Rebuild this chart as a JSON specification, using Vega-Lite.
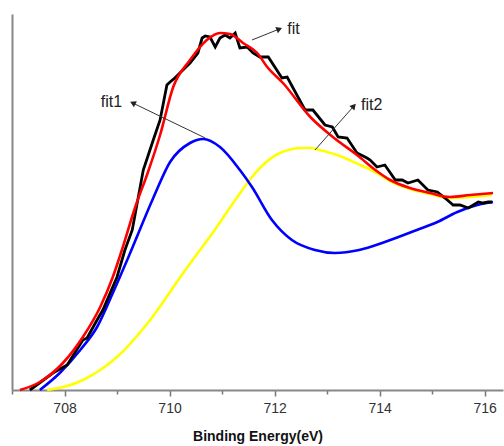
{
  "$schema": "https://vega.github.io/schema/vega-lite/v6.json",
  "width": 491,
  "height": 376,
  "autosize": {"type": "none"},
  "padding": {"left": 12, "top": 14, "right": 1, "bottom": 56},
  "background": "white",
  "config": {"view": {"stroke": null}},
  "datasets": {
    "curves": [
      {"s": "fit2", "e": 707.67, "v": 0}, {"s": "fit2", "e": 708.05, "v": 4}, {"s": "fit2", "e": 708.35, "v": 10},
      {"s": "fit2", "e": 708.68, "v": 20}, {"s": "fit2", "e": 709.0, "v": 33}, {"s": "fit2", "e": 709.63, "v": 70},
      {"s": "fit2", "e": 710.26, "v": 117}, {"s": "fit2", "e": 710.90, "v": 163}, {"s": "fit2", "e": 711.25, "v": 190},
      {"s": "fit2", "e": 711.57, "v": 213}, {"s": "fit2", "e": 711.72, "v": 222}, {"s": "fit2", "e": 712.10, "v": 237},
      {"s": "fit2", "e": 712.52, "v": 242}, {"s": "fit2", "e": 712.68, "v": 242}, {"s": "fit2", "e": 712.85, "v": 240},
      {"s": "fit2", "e": 713.19, "v": 235}, {"s": "fit2", "e": 713.63, "v": 225}, {"s": "fit2", "e": 713.95, "v": 217},
      {"s": "fit2", "e": 714.20, "v": 209}, {"s": "fit2", "e": 714.58, "v": 201}, {"s": "fit2", "e": 714.96, "v": 196},
      {"s": "fit2", "e": 715.34, "v": 192}, {"s": "fit2", "e": 715.72, "v": 193}, {"s": "fit2", "e": 716.14, "v": 195},

      {"s": "fit1", "e": 707.53, "v": 0}, {"s": "fit1", "e": 707.91, "v": 17}, {"s": "fit1", "e": 708.30, "v": 40},
      {"s": "fit1", "e": 708.62, "v": 63}, {"s": "fit1", "e": 708.92, "v": 97}, {"s": "fit1", "e": 709.21, "v": 132},
      {"s": "fit1", "e": 709.69, "v": 192}, {"s": "fit1", "e": 710.01, "v": 228}, {"s": "fit1", "e": 710.39, "v": 247},
      {"s": "fit1", "e": 710.64, "v": 251}, {"s": "fit1", "e": 710.96, "v": 243}, {"s": "fit1", "e": 711.34, "v": 220},
      {"s": "fit1", "e": 711.57, "v": 203}, {"s": "fit1", "e": 711.95, "v": 170}, {"s": "fit1", "e": 712.33, "v": 150},
      {"s": "fit1", "e": 712.77, "v": 140}, {"s": "fit1", "e": 713.15, "v": 137}, {"s": "fit1", "e": 713.61, "v": 140},
      {"s": "fit1", "e": 714.10, "v": 148}, {"s": "fit1", "e": 714.71, "v": 160}, {"s": "fit1", "e": 715.10, "v": 168},
      {"s": "fit1", "e": 715.48, "v": 178}, {"s": "fit1", "e": 715.86, "v": 185}, {"s": "fit1", "e": 716.16, "v": 188},

      {"s": "data", "e": 707.34, "v": 0}, {"s": "data", "e": 707.78, "v": 17}, {"s": "data", "e": 708.05, "v": 25},
      {"s": "data", "e": 708.35, "v": 50}, {"s": "data", "e": 708.43, "v": 52}, {"s": "data", "e": 708.62, "v": 70},
      {"s": "data", "e": 708.73, "v": 80}, {"s": "data", "e": 709.00, "v": 113}, {"s": "data", "e": 709.15, "v": 140},
      {"s": "data", "e": 709.29, "v": 160}, {"s": "data", "e": 709.50, "v": 220}, {"s": "data", "e": 709.69, "v": 250},
      {"s": "data", "e": 709.82, "v": 270}, {"s": "data", "e": 709.95, "v": 305}, {"s": "data", "e": 710.01, "v": 308},
      {"s": "data", "e": 710.10, "v": 312}, {"s": "data", "e": 710.39, "v": 327}, {"s": "data", "e": 710.54, "v": 337},
      {"s": "data", "e": 710.62, "v": 352}, {"s": "data", "e": 710.68, "v": 354}, {"s": "data", "e": 710.77, "v": 353},
      {"s": "data", "e": 710.87, "v": 343}, {"s": "data", "e": 710.96, "v": 352}, {"s": "data", "e": 711.06, "v": 355},
      {"s": "data", "e": 711.15, "v": 352}, {"s": "data", "e": 711.25, "v": 357}, {"s": "data", "e": 711.34, "v": 342},
      {"s": "data", "e": 711.48, "v": 343}, {"s": "data", "e": 711.59, "v": 337}, {"s": "data", "e": 711.72, "v": 333},
      {"s": "data", "e": 711.88, "v": 333}, {"s": "data", "e": 712.14, "v": 312}, {"s": "data", "e": 712.24, "v": 313},
      {"s": "data", "e": 712.58, "v": 280}, {"s": "data", "e": 712.73, "v": 280}, {"s": "data", "e": 712.96, "v": 265},
      {"s": "data", "e": 713.10, "v": 263}, {"s": "data", "e": 713.21, "v": 253}, {"s": "data", "e": 713.38, "v": 252},
      {"s": "data", "e": 713.57, "v": 237}, {"s": "data", "e": 713.76, "v": 232}, {"s": "data", "e": 713.82, "v": 230},
      {"s": "data", "e": 713.95, "v": 223}, {"s": "data", "e": 714.10, "v": 225}, {"s": "data", "e": 714.30, "v": 210},
      {"s": "data", "e": 714.43, "v": 210}, {"s": "data", "e": 714.54, "v": 207}, {"s": "data", "e": 714.73, "v": 210},
      {"s": "data", "e": 714.92, "v": 200}, {"s": "data", "e": 715.10, "v": 198}, {"s": "data", "e": 715.29, "v": 190},
      {"s": "data", "e": 715.40, "v": 185}, {"s": "data", "e": 715.53, "v": 185}, {"s": "data", "e": 715.69, "v": 182},
      {"s": "data", "e": 715.88, "v": 188}, {"s": "data", "e": 715.97, "v": 187}, {"s": "data", "e": 716.07, "v": 188},
      {"s": "data", "e": 716.14, "v": 188},

      {"s": "fit", "e": 707.15, "v": 0}, {"s": "fit", "e": 707.53, "v": 8}, {"s": "fit", "e": 707.97, "v": 27},
      {"s": "fit", "e": 708.35, "v": 53}, {"s": "fit", "e": 708.68, "v": 83}, {"s": "fit", "e": 708.92, "v": 113},
      {"s": "fit", "e": 709.08, "v": 138}, {"s": "fit", "e": 709.36, "v": 185}, {"s": "fit", "e": 709.57, "v": 215},
      {"s": "fit", "e": 709.82, "v": 255}, {"s": "fit", "e": 710.07, "v": 303}, {"s": "fit", "e": 710.39, "v": 330},
      {"s": "fit", "e": 710.71, "v": 350}, {"s": "fit", "e": 710.96, "v": 357}, {"s": "fit", "e": 711.15, "v": 356},
      {"s": "fit", "e": 711.40, "v": 347}, {"s": "fit", "e": 711.67, "v": 337}, {"s": "fit", "e": 711.86, "v": 323},
      {"s": "fit", "e": 712.16, "v": 307}, {"s": "fit", "e": 712.68, "v": 273}, {"s": "fit", "e": 713.11, "v": 253},
      {"s": "fit", "e": 713.57, "v": 235}, {"s": "fit", "e": 713.97, "v": 218}, {"s": "fit", "e": 714.20, "v": 210},
      {"s": "fit", "e": 714.58, "v": 202}, {"s": "fit", "e": 714.96, "v": 197}, {"s": "fit", "e": 715.34, "v": 193},
      {"s": "fit", "e": 715.72, "v": 195}, {"s": "fit", "e": 716.16, "v": 197}
    ],
    "notes": [
      {"label": "fit", "e0": 711.57, "v0": 350, "e1": 712.09, "v1": 361, "ang": 68, "te": 712.36, "tv": 361},
      {"label": "fit1", "e0": 710.68, "v0": 252, "e1": 709.30, "v1": 287, "ang": 296, "te": 708.895, "tv": 288},
      {"label": "fit2", "e0": 712.77, "v0": 240, "e1": 713.51, "v1": 284, "ang": 42, "te": 713.85, "tv": 285}
    ]
  },
  "layer": [
    {
      "data": {"name": "curves"},
      "transform": [{"filter": "datum.s === 'fit2' || datum.s === 'fit1'"}],
      "mark": {"type": "line", "interpolate": "monotone", "strokeWidth": 2.6},
      "encoding": {
        "x": {
          "field": "e", "type": "quantitative",
          "scale": {"domain": [707, 716.35], "nice": false, "zero": false},
          "axis": {
            "title": "Binding Energy(eV)",
            "titleFont": "Liberation Sans", "titleFontSize": 14, "titleFontWeight": "bold", "titleColor": "#111",
            "titlePadding": 14,
            "values": [707, 708, 709, 710, 711, 712, 713, 714, 715, 716],
            "labelExpr": "datum.value % 2 === 0 ? datum.label : ''",
            "labelFont": "Liberation Sans", "labelFontSize": 14, "labelColor": "#333", "labelPadding": 5,
            "tickSize": {"condition": {"test": "datum.value % 2 === 1", "value": 4}, "value": 6},
            "tickColor": "#777", "tickWidth": 1.5,
            "domainColor": "#888", "domainWidth": 2,
            "grid": false
          }
        },
        "y": {
          "field": "v", "type": "quantitative",
          "scale": {"domain": [0, 376], "nice": false},
          "axis": {"title": null, "labels": false, "ticks": false, "grid": false, "domainColor": "#888", "domainWidth": 2}
        },
        "color": {
          "field": "s", "type": "nominal",
          "scale": {"domain": ["fit2", "fit1", "data", "fit"], "range": ["#ffff00", "#0000ff", "#000000", "#ff0000"]},
          "legend": null
        },
        "detail": {"field": "s"}
      }
    },
    {
      "data": {"name": "curves"},
      "transform": [{"filter": "datum.s === 'data'"}],
      "mark": {"type": "line", "interpolate": "linear", "strokeWidth": 2.8, "color": "#000000"},
      "encoding": {
        "x": {"field": "e", "type": "quantitative"},
        "y": {"field": "v", "type": "quantitative"}
      }
    },
    {
      "data": {"name": "curves"},
      "transform": [{"filter": "datum.s === 'fit'"}],
      "mark": {"type": "line", "interpolate": "monotone", "strokeWidth": 2.6, "color": "#ff0000"},
      "encoding": {
        "x": {"field": "e", "type": "quantitative"},
        "y": {"field": "v", "type": "quantitative"}
      }
    },
    {
      "data": {"name": "notes"},
      "mark": {"type": "rule", "color": "#333", "strokeWidth": 1},
      "encoding": {
        "x": {"field": "e0", "type": "quantitative"},
        "y": {"field": "v0", "type": "quantitative"},
        "x2": {"field": "e1"},
        "y2": {"field": "v1"}
      }
    },
    {
      "data": {"name": "notes"},
      "mark": {"type": "point", "shape": "triangle-up", "filled": true, "color": "#222", "size": 45, "opacity": 1},
      "encoding": {
        "x": {"field": "e1", "type": "quantitative"},
        "y": {"field": "v1", "type": "quantitative"},
        "angle": {"field": "ang", "type": "quantitative", "scale": null}
      }
    },
    {
      "data": {"name": "notes"},
      "mark": {"type": "text", "font": "Liberation Sans", "fontSize": 16, "color": "#222", "align": "center", "baseline": "middle"},
      "encoding": {
        "x": {"field": "te", "type": "quantitative"},
        "y": {"field": "tv", "type": "quantitative"},
        "text": {"field": "label"}
      }
    }
  ]
}
